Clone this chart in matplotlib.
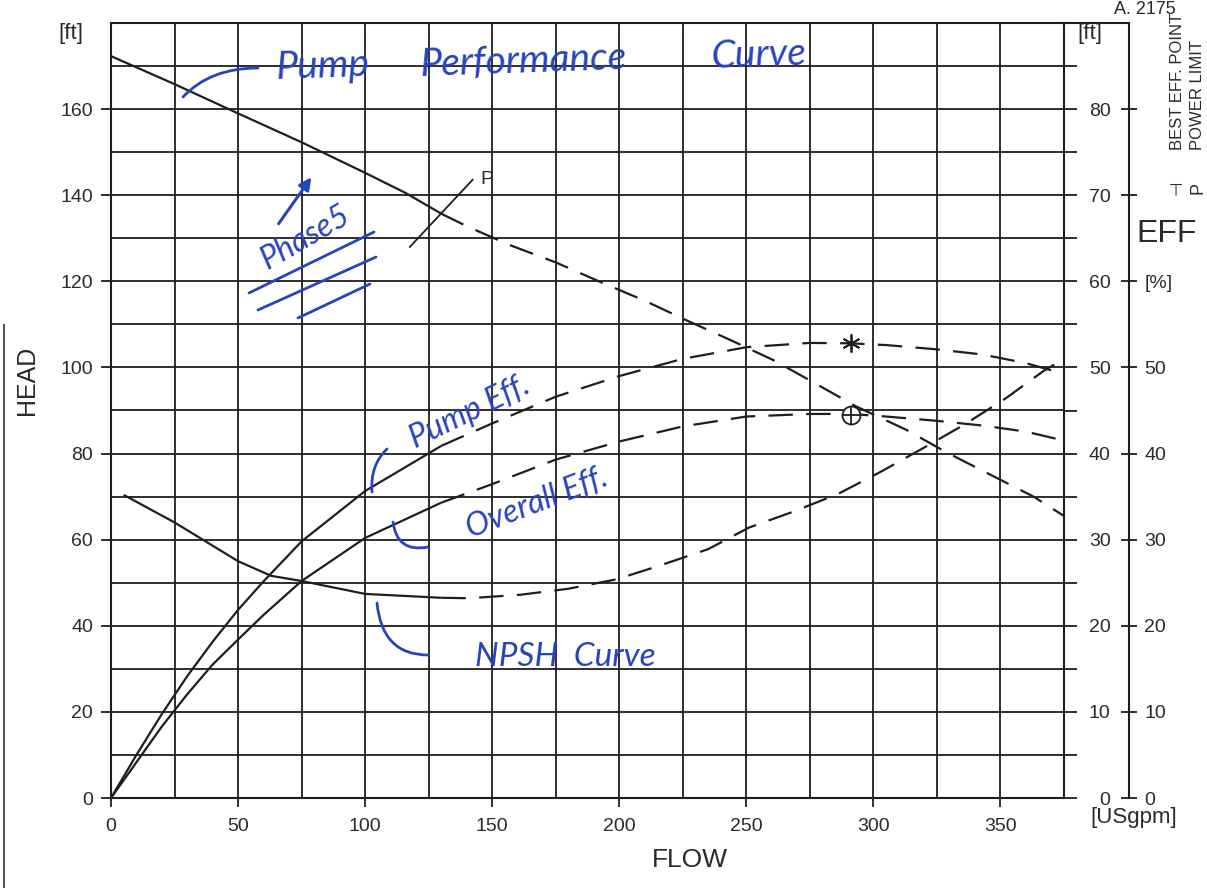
import matplotlib
matplotlib.use('Agg')
import matplotlib.pyplot as plt
import numpy as np
from matplotlib.transforms import Affine2D
from matplotlib.path import Path
from matplotlib.patches import PathPatch, FancyArrowPatch
from matplotlib.lines import Line2D

# ---------------- data ----------------
# Head curve [ft, left axis] vs flow [USgpm]
flow_head = [0, 25, 50, 75, 100, 116, 130, 140, 157, 175, 192, 210, 227, 244,
             261, 278, 293, 313, 329, 346, 363, 375]
head = [172.3, 165.8, 159.0, 152.3, 145.2, 140.5, 135.7, 132.8, 128.4, 124.4,
        120.0, 115.5, 110.8, 106.3, 101.6, 96.0, 91.0, 85.5, 80.2, 75.1, 70.0, 65.5]

# Efficiencies [%, EFF axis]
flow_eff = [0, 10, 20, 30, 40, 50, 60, 75, 100, 130, 150, 175, 200, 225, 250,
            275, 291, 305, 325, 343, 360, 375]
pump_eff = [0, 5.0, 9.75, 14.15, 18.15, 21.85, 25.15, 29.8, 35.65, 40.9, 43.5,
            46.6, 49.0, 51.0, 52.35, 52.85, 52.8, 52.6, 52.1, 51.5, 50.5, 49.25]
overall_eff = [0, 4.15, 8.3, 12.05, 15.5, 18.4, 21.25, 25.2, 30.2, 34.3, 36.45,
               39.3, 41.4, 43.15, 44.3, 44.6, 44.6, 44.3, 43.8, 43.25, 42.55, 41.5]

# NPSH curve [ft, right axis]
flow_npsh = [5, 25, 50, 63, 75, 100, 130, 141, 161, 180, 199, 216, 235, 251,
             268, 286, 303, 320, 336, 352, 367, 375]
npsh = [35.2, 32.0, 27.5, 25.8, 25.2, 23.7, 23.25, 23.2, 23.6, 24.3, 25.4, 27.0,
        28.9, 31.4, 33.2, 35.3, 37.9, 40.7, 43.4, 46.4, 49.6, 51.0]

tested_limit = 130          # solid up to here, dashed beyond
bep_flow = 291
bep_pump_eff = 52.8
bep_overall_eff = 44.5
power_flow = [117.6, 142.3]  # short "P" power limit stroke across head curve
power_head = [128.0, 143.6]

x_ticks = [0, 50, 100, 150, 200, 250, 300, 350]
left_ticks = [0, 20, 40, 60, 80, 100, 120, 140, 160]
right_ticks = [0, 10, 20, 30, 40, 50, 60, 70, 80]
eff_labels = ['0', '10', '20', '30', '40', '50', '[%]', '', '']

# ---------------- figure ----------------
W, H = 1207, 888
plt.rcParams['font.family'] = ['Liberation Sans', 'DejaVu Sans']
fig = plt.figure(figsize=(W / 100, H / 100), dpi=100)
fig.patch.set_facecolor('white')
T = Affine2D().scale(1 / W, -1 / H).translate(0, 1) + fig.transFigure

L, R, TOP, BOT = 111, 1064, 23, 798
ax = fig.add_axes([L / W, 1 - BOT / H, (R - L) / W, (BOT - TOP) / H])
ax.set_xlim(0, 375)
ax.set_ylim(0, 180)
ink = '#1e1e1e'
txt = '#2a2a2a'

ax.set_xticks(x_ticks)
ax.set_xticks(np.arange(0, 376, 25), minor=True)
ax.set_yticks(left_ticks)
ax.set_yticks(np.arange(0, 181, 10), minor=True)
ax.grid(True, which='both', color=ink, lw=1.3)
ax.set_axisbelow(True)
ax.tick_params(axis='y', which='major', direction='out', length=7, width=1.3,
               pad=6, labelsize=14, colors=ink, labelcolor=txt)
ax.tick_params(axis='x', which='major', direction='out', length=6.5, width=1.3,
               pad=8, labelsize=14, colors=ink, labelcolor=txt)
ax.tick_params(which='minor', length=0)
for s in ax.spines.values():
    s.set_color(ink)
    s.set_linewidth(1.5)

# right ft axis
ax2 = ax.twinx()
ax2.set_ylim(0, 90)
ax2.set_yticks(right_ticks)
ax2.set_yticks(np.arange(0, 91, 5), minor=True)
ax2.tick_params(axis='y', which='both', direction='out', length=9, width=1.3,
                colors=ink, labelcolor=txt)
ax2.tick_params(axis='y', which='major', pad=24.5, labelsize=14)
for lbl in ax2.get_yticklabels():
    lbl.set_ha('right')
for k in ['left', 'top', 'bottom', 'right']:
    ax2.spines[k].set_visible(False)

# EFF axis
ax3 = ax.twinx()
ax3.set_ylim(0, 90)
ax3.spines['right'].set_position(('axes', 1.068))
ax3.set_yticks(right_ticks)
ax3.set_yticklabels(eff_labels)
ax3.tick_params(axis='y', direction='inout', length=11.5, width=1.3, pad=5.5,
                labelsize=14, colors=ink, labelcolor=txt)
for k in ['left', 'top', 'bottom']:
    ax3.spines[k].set_visible(False)
ax3.spines['right'].set_color(ink)
ax3.spines['right'].set_linewidth(1.5)
ax.plot([1, 1.068], [1, 1], transform=ax.transAxes, color=ink, lw=1.5,
        clip_on=False)

# ---------------- curves ----------------
def split(xs, ys):
    xs, ys = np.asarray(xs, float), np.asarray(ys, float)
    a = xs <= tested_limit
    b = xs >= tested_limit
    return (xs[a], ys[a]), (xs[b], ys[b])

dash = (11, 6)
for axis, xs, ys in [(ax, flow_head, head), (ax3, flow_eff, pump_eff),
                     (ax3, flow_eff, overall_eff), (ax2, flow_npsh, npsh)]:
    (sx, sy), (dx, dy) = split(xs, ys)
    axis.plot(sx, sy, color=ink, lw=1.6, solid_capstyle='butt', zorder=4)
    axis.plot(dx, dy, color=ink, lw=1.6, dashes=dash, zorder=4)

ax.plot(power_flow, power_head, color=ink, lw=1.3, zorder=4)
ax.text(power_flow[1] + 3, power_head[1], 'P', fontsize=14, color=txt,
        ha='left', va='center')

ax3.plot([bep_flow], [bep_pump_eff], marker=(6, 2, 0), ms=13, mew=1.3,
         color=ink, zorder=5)
ax3.plot([bep_flow], [bep_overall_eff], marker='o', ms=13, mfc='white',
         mec=ink, mew=1.3, zorder=5)
ax3.plot([bep_flow], [bep_overall_eff], marker='+', ms=13, mew=1.3,
         color=ink, zorder=6)

# ---------------- printed labels ----------------
fig.text(71, 33, '[ft]', transform=T, fontsize=16, color=txt, ha='center', va='center')
fig.text(1090, 33, '[ft]', transform=T, fontsize=16, color=txt, ha='center', va='center')
fig.text(27, 380, 'HEAD', transform=T, fontsize=18, color=txt, rotation=90,
         ha='center', va='center')
fig.text(690, 860, 'FLOW', transform=T, fontsize=19, color=txt, ha='center', va='center')
fig.text(1134, 817, '[USgpm]', transform=T, fontsize=16, color=txt, ha='center', va='center')
fig.text(1167, 234, 'EFF', transform=T, fontsize=23, color=txt, ha='center', va='center')
fig.text(1177, 150, 'BEST EFF. POINT', transform=T, fontsize=12, color=txt,
         rotation=90, ha='center', va='bottom')
fig.text(1198, 150, 'POWER LIMIT', transform=T, fontsize=12, color=txt,
         rotation=90, ha='center', va='bottom')
fig.text(1177, 188, '\u22a3', transform=T, fontsize=12, color=txt, rotation=90,
         ha='center', va='center', family=['DejaVu Sans'])
fig.text(1198, 188, 'P', transform=T, fontsize=13, color=txt, rotation=90,
         ha='center', va='center')
fig.text(1145, 9, 'A. 2175', transform=T, fontsize=13, color=txt,
         ha='center', va='center')
fig.add_artist(Line2D([4, 4], [325, 888], transform=T, color='#555555', lw=1.5))

# ---------------- handwritten annotations ----------------
blue = '#2645bd'
hand = dict(transform=T, color=blue, family=['Lato', 'DejaVu Sans'],
            style='italic', fontweight='normal', ha='center', va='center')

def stroke(pts, lw=2.0):
    codes = [Path.MOVETO] + [Path.CURVE3] * (len(pts) - 1) if len(pts) == 3 else \
        [Path.MOVETO] + [Path.LINETO] * (len(pts) - 1)
    fig.add_artist(PathPatch(Path(pts, codes), transform=T, fill=False,
                             edgecolor=blue, lw=lw, capstyle='round'))

fig.text(322, 66, 'Pump', fontsize=28, rotation=2, **hand)
fig.text(523, 61, 'Performance', fontsize=28, rotation=2, **hand)
fig.text(758, 55, 'Curve', fontsize=28, rotation=2, **hand)
stroke([(183, 97), (210, 68), (258, 68)])

fig.text(305, 238, 'Phase5', fontsize=23, rotation=30, **hand)
fig.add_artist(FancyArrowPatch((277, 226), (313, 175), transform=T,
                               arrowstyle='-|>', mutation_scale=18,
                               color=blue, lw=2.2))
stroke([(249, 293), (374, 232)])
stroke([(258, 310), (376, 257)])
stroke([(298, 318), (370, 284)])

fig.text(470, 412, 'Pump Eff.', fontsize=23, rotation=26, **hand)
stroke([(387, 449), (370, 465), (372, 492)])

fig.text(537, 503, 'Overall Eff.', fontsize=23, rotation=21, **hand)
stroke([(393, 522), (397, 553), (428, 547)])

fig.text(565, 657, 'NPSH  Curve', fontsize=24, **hand)
stroke([(377, 603), (382, 655), (428, 655)])

fig.savefig('out.png', dpi=100, facecolor='white')
